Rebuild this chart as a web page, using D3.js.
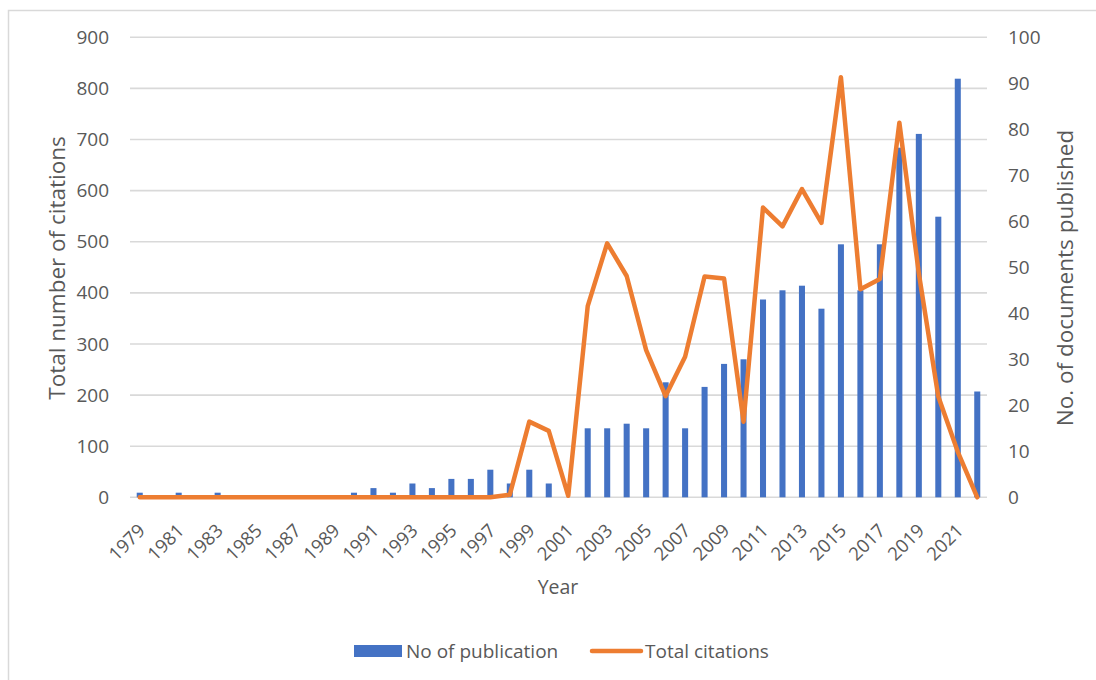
<!DOCTYPE html>
<html>
<head>
<meta charset="utf-8">
<script src="https://cdn.jsdelivr.net/npm/d3@7"></script>
<style>
  html, body { margin: 0; padding: 0; background: #fff; }
  svg text { font-family: "Open Sans", "Noto Sans", sans-serif; fill: #595959; }
</style>
</head>
<body>
<svg id="chart" width="1096" height="680"></svg>
<script>
// Publication years shown on the x axis
const years = d3.range(1979, 2023);

// Documents published per year (right axis)
const publications = [
  1, 0, 1, 0, 1, 0, 0, 0, 0, 0, 0, 1, 2, 1, 3, 2, 4, 4, 6, 3,
  6, 3, 0, 15, 15, 16, 15, 25, 15, 24, 29, 30, 43, 45, 46, 41,
  55, 45, 55, 76, 79, 61, 91, 23
];

// Total citations per year (left axis)
const citations = [
  0, 0, 0, 0, 0, 0, 0, 0, 0, 0, 0, 0, 0, 0, 0, 0, 0, 0, 0, 5,
  148, 130, 3, 374, 497, 433, 288, 198, 275, 432, 428, 148, 567, 530, 603, 537,
  822, 407, 427, 733, 438, 197, 89, 0
];

const leftTicks = d3.range(0, 901, 100);
const rightTicks = d3.range(0, 101, 10);
const yearLabels = years.filter(y => y % 2 === 1);

const svg = d3.select("#chart");
const margin = { left: 130, right: 987, top: 37.3, bottom: 497.3 };

// chart frame
svg.append("rect")
  .attr("x", 8.5).attr("y", 10.5)
  .attr("width", 1200).attr("height", 800)
  .attr("fill", "none").attr("stroke", "#d9d9d9").attr("stroke-width", 1.5);

const x = d3.scaleBand().domain(years).range([margin.left, margin.right]).paddingInner(0.69).paddingOuter(0.345);
const xc = d3.scaleBand().domain(years).range([margin.left, margin.right]);
const yL = d3.scaleLinear().domain([0, 900]).range([margin.bottom, margin.top]);
const yR = d3.scaleLinear().domain([0, 100]).range([margin.bottom, margin.top]);

// gridlines
svg.append("g").selectAll("line").data(leftTicks).join("line")
  .attr("x1", margin.left).attr("x2", margin.right)
  .attr("y1", d => yL(d)).attr("y2", d => yL(d))
  .attr("stroke", "#d9d9d9").attr("stroke-width", 1.6);

// left axis
const axL = d3.axisLeft(yL).tickValues(leftTicks).tickSize(0).tickPadding(21);
const gL = svg.append("g").attr("transform", `translate(${margin.left},0)`).call(axL);
gL.select(".domain").remove();
gL.selectAll("text").style("font-size", "19px").attr("fill", "#595959");

// right axis
const axR = d3.axisRight(yR).tickValues(rightTicks).tickSize(0).tickPadding(21);
const gR = svg.append("g").attr("transform", `translate(${margin.right},0)`).call(axR);
gR.select(".domain").remove();
gR.selectAll("text").style("font-size", "19px").attr("fill", "#595959");

// bars: publications
svg.append("g").selectAll("rect").data(years).join("rect")
  .attr("x", (d) => x(d))
  .attr("width", x.bandwidth())
  .attr("y", (d, i) => yR(publications[i]))
  .attr("height", (d, i) => yR(0) - yR(publications[i]))
  .attr("fill", "#4472C4");

// line: citations
const line = d3.line()
  .x((d, i) => xc(years[i]) + xc.bandwidth() / 2)
  .y(d => yL(d));
svg.append("path").datum(citations)
  .attr("d", line)
  .attr("fill", "none").attr("stroke", "#ED7D31").attr("stroke-width", 4.5)
  .attr("stroke-linejoin", "round").attr("stroke-linecap", "round");

// x tick labels
svg.append("g").selectAll("text").data(yearLabels).join("text")
  .attr("transform", d => `translate(${xc(d) + xc.bandwidth() / 2 + 2},${margin.bottom + 30}) rotate(-45)`)
  .attr("text-anchor", "end")
  .attr("dy", "0.35em")
  .style("font-size", "18.5px")
  .text(d => d);

// axis titles
svg.append("text")
  .attr("transform", `translate(57,268) rotate(-90)`)
  .attr("text-anchor", "middle")
  .attr("dy", "0.35em")
  .style("font-size", "22.5px")
  .text("Total number of citations");

svg.append("text")
  .attr("transform", `translate(1065,278) rotate(-90)`)
  .attr("text-anchor", "middle")
  .attr("dy", "0.35em")
  .style("font-size", "22.5px")
  .text("No. of documents published");

svg.append("text")
  .attr("x", 558).attr("y", 587)
  .attr("text-anchor", "middle")
  .attr("dy", "0.35em")
  .style("font-size", "19.5px")
  .text("Year");

// legend
const lg = svg.append("g");
lg.append("rect").attr("x", 354).attr("y", 645).attr("width", 48).attr("height", 12).attr("fill", "#4472C4");
lg.append("text").attr("x", 406).attr("y", 651).attr("dy", "0.35em").style("font-size", "19px").text("No of publication");
lg.append("line").attr("x1", 592).attr("x2", 641).attr("y1", 651).attr("y2", 651)
  .attr("stroke", "#ED7D31").attr("stroke-width", 4.5).attr("stroke-linecap", "round");
lg.append("text").attr("x", 645).attr("y", 651).attr("dy", "0.35em").style("font-size", "19px").text("Total citations");
</script>
</body>
</html>
